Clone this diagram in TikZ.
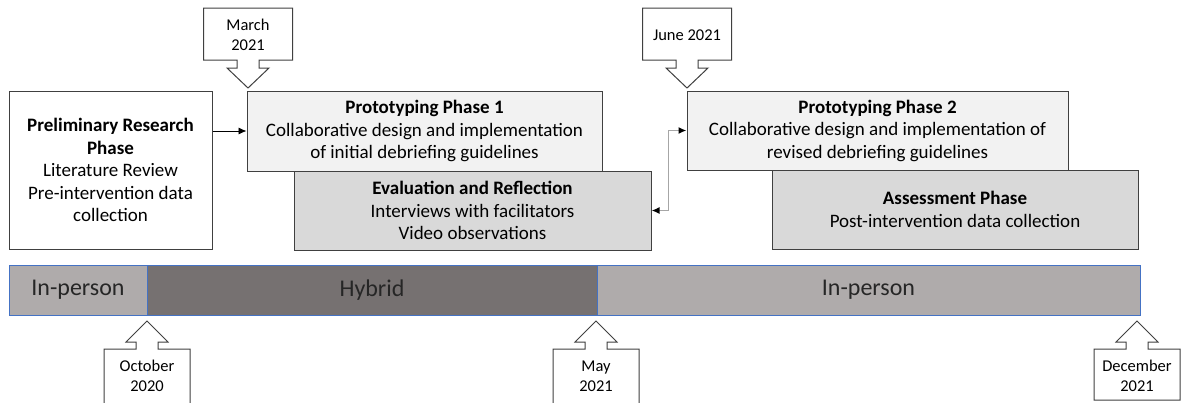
\documentclass[tikz,border=0pt]{standalone}
\usepackage{fontspec}
\setmainfont{Carlito}
\usetikzlibrary{arrows.meta,positioning}
\definecolor{ink}{RGB}{64,64,64}
\definecolor{lite}{RGB}{242,242,242}
\definecolor{mid}{RGB}{217,217,217}
\definecolor{barL}{RGB}{175,171,171}
\definecolor{barD}{RGB}{118,113,113}
\definecolor{barline}{RGB}{68,114,196}
\definecolor{wire}{RGB}{166,166,166}
\tikzset{
  phase/.style={draw=ink,line width=0.5pt,align=center,inner sep=2pt,
    font=\fontsize{9.5}{11.25}\selectfont},
  seg/.style={draw=barline,line width=0.5pt,minimum height=25pt,inner sep=0pt,
    font=\fontsize{12}{14}\selectfont,text=black!85},
  callout/.style={draw=ink,line width=0.5pt,fill=white},
  datetxt/.style={align=center,font=\fontsize{8.25}{10}\selectfont},
  arr/.style={-{Latex[length=4pt,width=3.5pt]},line width=0.4pt},
  link/.style={{Latex[length=4pt,width=3.5pt,color=black]}-{Latex[length=4pt,width=3.5pt,color=black]},
    wire,line width=0.8pt},
}
% date marker pointing down: name, centre x, text
\newcommand\datedown[3]{%
  \begin{scope}[shift={(#2,0)}]
    \draw[callout] (-44.5,8) -- (44.5,8) -- (44.5,60) -- (11,60) -- (11,68) -- (21,68)
      -- (0,88) -- (-21,68) -- (-11,68) -- (-11,60) -- (-44.5,60) -- cycle;
    \node[datetxt] (#1) at (0,35) {#3};
  \end{scope}}
% date marker pointing up: name, centre x, box bottom, text
\newcommand\dateup[4]{%
  \begin{scope}[shift={(#2,0)}]
    \draw[callout] (-43,#3) -- (-43,349) -- (-11,349) -- (-11,342) -- (-21,342)
      -- (0,321) -- (21,342) -- (11,342) -- (11,349) -- (43,349) -- (43,#3) -- cycle;
    \node[datetxt] (#1) at (0,376) {#4};
  \end{scope}}

\begin{document}
\begin{tikzpicture}[x=0.5pt,y=-0.5pt]
\useasboundingbox (0,0) rectangle (1182,402);
% phases
\node[phase,minimum width=101.5pt,minimum height=79pt] (prelim) at (110.5,170)
  {\textbf{Preliminary Research}\\\textbf{Phase}\\Literature Review\\Pre-intervention data\\collection};
\node[phase,fill=mid,minimum width=178.5pt,minimum height=39.5pt] (eval) at (472.5,210.5)
  {\textbf{Evaluation and Reflection}\\Interviews with facilitators\\Video observations};
\node[phase,fill=lite,minimum width=177.5pt,minimum height=40pt] (proto1) at (424.5,131)
  {\textbf{Prototyping Phase 1}\\Collaborative design and implementation\\of initial debriefing guidelines};
\node[phase,fill=mid,minimum width=183pt,minimum height=39.5pt] (assess) at (955,209.5)
  {\textbf{Assessment Phase}\\Post-intervention data collection};
\node[phase,fill=lite,minimum width=190.5pt,minimum height=39.5pt] (proto2) at (877.5,130.5)
  {\textbf{Prototyping Phase 2}\\Collaborative design and implementation of\\revised debriefing guidelines};
\draw[arr] (prelim.east |- proto1.west) -- (proto1.west);
\draw[link] (eval.east) -- ++(17,0) |- (proto2.west);
% timeline
\node[seg,fill=barL,minimum width=69pt] (early) at (78,290) {In-person};
\node[seg,fill=barD,minimum width=225pt] (hybrid) at (372,290) {Hybrid};
\node[seg,fill=barL,minimum width=271.5pt] (late) at (868.5,290) {In-person};
% dates
\datedown{march}{248}{March\\2021}
\datedown{june}{687}{June 2021}
\dateup{october}{147}{404}{October\\2020}
\dateup{may}{596}{404}{May\\2021}
\dateup{december}{1137}{400}{December\\2021}
\end{tikzpicture}
\end{document}
